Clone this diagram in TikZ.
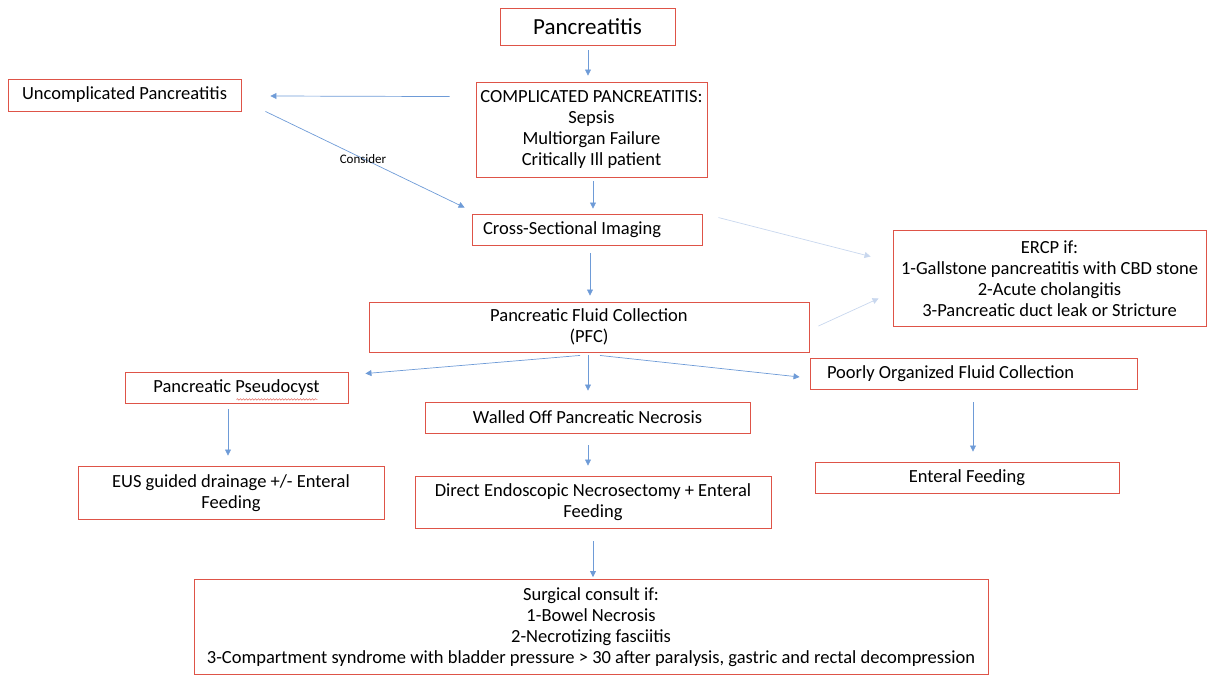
\documentclass[tikz,border=0pt]{standalone}
\usepackage{fontspec}
\setmainfont{Carlito}
\usetikzlibrary{arrows.meta,calc,decorations.pathmorphing}
\definecolor{boxred}{RGB}{222,84,72}
\definecolor{linkblue}{RGB}{110,155,215}
\definecolor{faintblue}{RGB}{200,215,238}

\begin{document}
\begin{tikzpicture}[x=1pt,y=-1pt,
  box/.style={draw=boxred,line width=0.9pt,align=center,inner sep=2pt,font=\fontsize{18.5}{21}\selectfont},
  leftbox/.style={box,align=flush left,text width=#1},
  link/.style={draw=linkblue,line width=0.7pt,-{Triangle[length=6pt,width=6pt]}},
  faint/.style={link,draw=faintblue}]
  \useasboundingbox (0,0) rectangle (1208,676);

  % boxes
  \node[box,minimum width=175pt,minimum height=37pt,font=\fontsize{23}{26}\selectfont] (title) at (587.5,26.5) {Pancreatitis};
  \node[box,minimum width=233pt,minimum height=32pt] (uncomp) at (124.5,95) {Uncomplicated Pancreatitis};
  \node[box,minimum width=231pt,minimum height=95pt] (comp) at (591.5,129.5)
    {COMPLICATED PANCREATITIS:\\Sepsis\\Multiorgan Failure\\Critically Ill patient};
  \node[leftbox=208pt,inner xsep=11pt,minimum height=31pt] (cross) at (587,229.5) {Cross-Sectional Imaging};
  \node[box,minimum width=313pt,minimum height=96pt] (ercp) at (1049.5,278.5)
    {ERCP if:\\1-Gallstone pancreatitis with CBD stone\\2-Acute cholangitis\\3-Pancreatic duct leak or Stricture};
  \node[box,minimum width=440pt,minimum height=50pt] (pfc) at (589,327) {Pancreatic Fluid Collection\\(PFC)};
  \node[box,minimum width=223pt,minimum height=31pt] (pseudo) at (236.5,387.5) {Pancreatic Pseudocyst};
  \node[box,minimum width=325pt,minimum height=31pt] (walled) at (587.5,417.5) {Walled Off Pancreatic Necrosis};
  \node[leftbox=293pt,inner xsep=17pt,minimum height=31pt] (poorly) at (973.5,373.5) {Poorly Organized Fluid Collection};
  \node[box,minimum width=306pt,minimum height=53pt] (eus) at (231,493) {EUS guided drainage +/- Enteral\\Feeding};
  \node[box,minimum width=356pt,minimum height=52pt] (direct) at (593,502) {Direct Endoscopic Necrosectomy + Enteral\\Feeding};
  \node[box,minimum width=304pt,minimum height=31pt] (enteral) at (967,477.5) {Enteral Feeding};
  \node[box,minimum width=794pt,minimum height=95pt] (surg) at (591,627)
    {Surgical consult if:\\1-Bowel Necrosis\\2-Necrotizing fasciitis\\3-Compartment syndrome with bladder pressure > 30 after paralysis, gastric and rectal decompression};

  % spell-check underline
  \draw[boxred,line width=0.4pt,decorate,decoration={snake,amplitude=0.8pt,segment length=3pt}]
    ($(pseudo.south)+(0,-4)$) -- ++(81,0);

  % connectors
  \draw[link] ($(title.south)+(0.5,5)$) -- ($(comp.north)+(-3.5,-6)$);
  \draw[link] ($(comp.north west)+(-26,15)$) -- ($(uncomp.east)+(29,1)$);
  \draw[link] ($(uncomp.south east)+(24,0)$) -- node[font=\fontsize{13}{15}\selectfont,pos=0.49] {Consider} ($(cross.north west)+(-7,-6)$);
  \draw[link] ($(comp.south)+(1.5,4)$) -- ($(cross.north)+(6,-5)$);
  \draw[faint] ($(cross.north east)+(16,4)$) -- ($(ercp.west)+(-22,-22)$);
  \draw[faint] ($(pfc.east)+(9,-1)$) -- ($(ercp.west)+(-14,20)$);
  \draw[link] ($(cross.south)+(3,8)$) -- ($(pfc.north)+(1,-6)$);
  \draw[link] ($(pfc.south)+(-9,3)$) -- ($(pseudo.north east)+(17,2)$);
  \draw[link] ($(pfc.south)+(-1,3)$) -- ($(walled.north)+(0.5,-11)$);
  \draw[link] ($(pfc.south)+(11,3)$) -- ($(poorly.west)+(-10,3.5)$);
  \draw[link] ($(pseudo.south)+(-8.5,6)$) -- ($(eus.north)+(-3,-10.5)$);
  \draw[link] ($(walled.south)+(0.5,12)$) -- ($(direct.north)+(-5,-10)$);
  \draw[link] ($(poorly.south)+(-0.5,13)$) -- ($(enteral.north)+(6,-10)$);
  \draw[link] ($(direct.south)+(0,13)$) -- ($(surg.north)+(2,-2)$);
\end{tikzpicture}
\end{document}
